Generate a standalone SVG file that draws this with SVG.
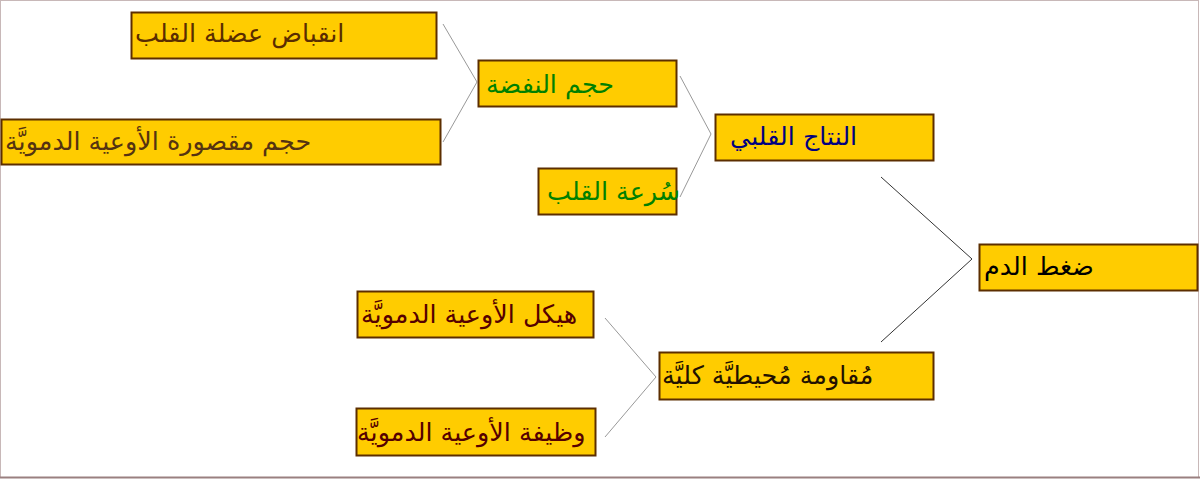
<svg xmlns="http://www.w3.org/2000/svg" width="1200" height="479" viewBox="0 0 1200 479">
<style>
.box{fill:#ffcc00;stroke:#5c2e00;stroke-width:2}
text{font-family:"DejaVu Sans",sans-serif;font-size:25.4px}
.c{fill:none;stroke:#999;stroke-width:1}
.cd{fill:none;stroke:#333;stroke-width:1}
</style>
<rect x="0.5" y="0.5" width="1198" height="477" fill="#fff" stroke="#c8b8b8" stroke-width="1"/>
<line x1="0" y1="477.5" x2="1200" y2="477.5" stroke="#9a8080" stroke-width="2"/>
<g id="connectors">
<polyline class="c" points="443,24 477,82 443,142"/>
<polyline class="c" points="680,76 711,134 680,197"/>
<polyline class="cd" points="881,177 972,259 881,342"/>
<polyline class="c" points="605,318 656,377 605,437"/>
</g>
<g id="n1"><rect class="box" x="131.5" y="12.5" width="305" height="46"/><text x="135" y="42" fill="#5a2d00">انقباض عضلة القلب</text></g>
<g id="n2"><rect class="box" x="1.5" y="119.5" width="439" height="45"/><text x="5" y="150" fill="#553311">حجم مقصورة الأوعية الدمويَّة</text></g>
<g id="n3"><rect class="box" x="478.5" y="60.5" width="198" height="46"/><text x="486" y="93" fill="#008000">حجم النفضة</text></g>
<g id="n4"><rect class="box" x="538.5" y="168.5" width="138" height="46"/><text x="547" y="200" fill="#008000">سُرعة القلب</text></g>
<g id="n5"><rect class="box" x="715.5" y="114.5" width="218" height="46"/><text x="730" y="145" fill="#000080">النتاج القلبي</text></g>
<g id="n6"><rect class="box" x="979.5" y="244.5" width="218" height="46"/><text x="984" y="275" fill="#000000">ضغط الدم</text></g>
<g id="n7"><rect class="box" x="357.5" y="291.5" width="236" height="46"/><text x="361" y="323" fill="#550000">هيكل الأوعية الدمويَّة</text></g>
<g id="n8"><rect class="box" x="356.5" y="408.5" width="239" height="47"/><text x="357" y="441" fill="#550000">وظيفة الأوعية الدمويَّة</text></g>
<g id="n9"><rect class="box" x="659.5" y="352.5" width="274" height="47"/><text x="662" y="384" fill="#221100">مُقاومة مُحيطيَّة كليَّة</text></g>
</svg>
